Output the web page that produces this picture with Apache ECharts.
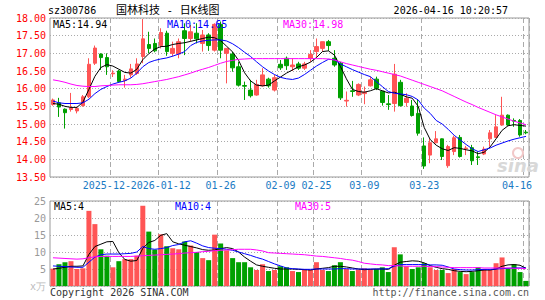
<!DOCTYPE html>
<html><head><meta charset="utf-8">
<script src="https://cdn.jsdelivr.net/npm/echarts@6/dist/echarts.min.js"></script>
<style>html,body{margin:0;padding:0;background:#fff}#c{width:545px;height:300px}</style>
</head><body><div id="c"></div>
<script>
const dates = [
'2025-12-15','2025-12-16','2025-12-17','2025-12-18','2025-12-19',
'2025-12-22','2025-12-23','2025-12-24','2025-12-25','2025-12-26',
'2025-12-29','2025-12-30','2025-12-31',
'2026-01-05','2026-01-06','2026-01-07','2026-01-08','2026-01-09',
'2026-01-12','2026-01-13','2026-01-14','2026-01-15','2026-01-16',
'2026-01-19','2026-01-20','2026-01-21','2026-01-22','2026-01-23',
'2026-01-26','2026-01-27','2026-01-28','2026-01-29','2026-01-30',
'2026-02-02','2026-02-03','2026-02-04','2026-02-05','2026-02-06',
'2026-02-09','2026-02-10','2026-02-11','2026-02-12','2026-02-13',
'2026-02-24','2026-02-25','2026-02-26','2026-02-27',
'2026-03-02','2026-03-03','2026-03-04','2026-03-05','2026-03-06',
'2026-03-09','2026-03-10','2026-03-11','2026-03-12','2026-03-13',
'2026-03-16','2026-03-17','2026-03-18','2026-03-19','2026-03-20',
'2026-03-23','2026-03-24','2026-03-25','2026-03-26','2026-03-27',
'2026-03-30','2026-03-31',
'2026-04-01','2026-04-02','2026-04-03',
'2026-04-07','2026-04-08','2026-04-09','2026-04-10',
'2026-04-13','2026-04-14','2026-04-15','2026-04-16'];

const openP = [15.55,15.60,15.42,15.41,15.37,15.52,15.77,16.72,16.98,16.88,
16.42,16.50,16.23,16.39,16.43,16.91,17.25,17.28,17.22,17.57,
17.00,16.98,17.64,17.42,17.57,17.28,17.52,17.09,17.82,17.00,
16.98,16.62,16.09,15.96,15.82,16.08,16.27,15.96,16.69,16.86,
16.62,16.70,16.58,16.86,17.05,17.14,17.33,16.86,16.72,15.65,
15.94,15.82,15.86,16.08,16.27,15.93,15.57,15.58,16.18,15.61,
15.51,15.30,14.38,14.12,14.47,14.58,13.82,14.22,14.62,14.30,
14.33,14.07,14.15,14.58,14.62,14.97,15.25,15.10,15.10,14.77];

const closeP = [15.68,15.48,15.32,15.46,15.44,15.77,16.69,17.15,16.88,16.62,
16.44,16.20,16.27,16.56,16.70,17.41,17.14,17.07,17.59,17.05,
17.14,17.33,17.42,17.61,17.41,17.52,17.22,17.82,17.09,17.14,
16.59,16.10,16.07,15.80,16.12,16.39,16.08,16.31,16.59,16.65,
16.67,16.58,16.70,16.97,17.19,17.33,17.22,16.67,15.74,15.67,
15.92,16.12,15.90,16.25,16.01,15.61,15.55,16.41,15.52,15.73,
15.24,14.74,13.81,14.47,14.58,14.08,14.36,14.61,14.08,14.32,
13.96,14.05,14.29,14.75,14.92,15.25,14.97,15.08,14.69,14.75];

const lowP = [15.52,15.20,14.87,15.35,15.30,15.49,15.73,16.67,16.53,16.39,
16.33,16.17,16.03,16.31,16.39,16.72,17.00,17.03,17.14,16.93,
16.91,16.86,16.95,17.33,17.28,17.05,17.07,17.05,16.86,16.15,
16.48,16.06,15.68,15.75,15.80,16.06,16.03,15.92,16.53,16.53,
16.50,16.53,16.53,16.76,16.88,17.05,17.07,16.62,15.68,15.49,
15.77,15.79,15.56,16.06,15.96,15.52,15.40,15.35,15.49,15.49,
15.21,14.67,13.73,13.89,14.45,13.98,13.76,14.12,14.05,14.12,
13.84,13.84,14.12,14.36,14.61,14.95,14.95,14.92,14.64,14.71];

const highP = [15.72,15.74,15.44,15.88,15.49,15.82,16.86,17.22,17.00,17.00,
16.52,16.53,16.39,16.70,16.86,17.97,17.61,17.42,17.71,17.64,
17.33,17.42,17.85,17.80,17.85,17.66,17.57,17.85,17.90,17.14,
17.05,16.76,16.20,16.25,16.25,16.58,16.31,16.39,16.81,16.91,
16.86,16.76,16.76,17.09,17.42,17.33,17.38,17.09,16.76,15.92,
16.22,16.15,16.06,16.34,16.34,15.93,15.82,16.70,16.25,15.87,
15.68,15.68,14.62,14.59,14.80,14.59,14.41,14.67,14.69,14.38,
14.41,14.22,14.36,14.83,15.25,15.77,15.27,15.16,15.14,14.83];

const ma5 = [15.58,15.56,15.50,15.47,15.47,15.62,15.98,16.35,16.60,16.68,
16.64,16.55,16.46,16.44,16.55,16.82,16.99,17.12,17.19,17.20,
17.25,17.28,17.30,17.34,17.38,17.42,17.46,17.44,17.36,17.20,
17.04,16.80,16.45,16.22,16.10,16.08,16.10,16.22,16.33,16.44,
16.53,16.62,16.67,16.75,16.88,17.05,17.07,16.95,16.63,16.28,
15.98,15.92,15.90,15.94,16.00,15.94,15.88,15.90,15.84,15.77,
15.73,15.50,14.90,14.56,14.40,14.30,14.25,14.33,14.31,14.27,
14.24,14.16,14.20,14.35,14.58,14.82,14.95,14.98,14.96,14.94];

const ma10 = [15.65,15.60,15.58,15.58,15.58,15.60,15.70,15.86,15.98,16.06,
16.13,16.18,16.22,16.30,16.44,16.62,16.74,16.80,16.84,16.87,
16.92,16.98,17.05,17.22,17.31,17.35,17.37,17.38,17.38,17.35,
17.27,17.16,17.03,16.91,16.76,16.62,16.50,16.40,16.32,16.28,
16.26,16.30,16.40,16.52,16.64,16.74,16.83,16.82,16.70,16.62,
16.54,16.47,16.40,16.34,16.20,16.06,15.92,15.87,15.85,15.83,
15.78,15.68,15.45,15.30,15.10,15.00,14.85,14.68,14.55,14.42,
14.30,14.22,14.27,14.32,14.40,14.46,14.52,14.57,14.61,14.65];

const ma30 = [16.25,16.22,16.18,16.13,16.09,16.07,16.06,16.06,16.08,16.09,
16.10,16.11,16.11,16.11,16.12,16.14,16.17,16.20,16.23,16.26,
16.30,16.34,16.39,16.44,16.50,16.55,16.60,16.66,16.72,16.77,
16.80,16.83,16.84,16.85,16.85,16.85,16.85,16.85,16.85,16.85,
16.85,16.85,16.85,16.85,16.85,16.85,16.84,16.81,16.76,16.71,
16.67,16.63,16.59,16.55,16.52,16.48,16.44,16.40,16.36,16.30,
16.24,16.18,16.12,16.06,16.00,15.94,15.86,15.78,15.70,15.62,
15.55,15.47,15.40,15.33,15.26,15.20,15.14,15.08,15.03,14.98];

const volume = [5.1,6.4,7.0,7.3,5.0,5.2,22.1,18.2,10.8,8.9,
5.5,7.3,7.9,7.9,8.9,23.6,16.0,10.7,15.2,11.7,
11.1,10.8,13.1,11.9,10.0,8.2,7.6,15.1,12.5,10.5,
8.2,7.0,7.0,5.5,4.7,6.4,4.4,4.7,5.8,5.5,
4.4,4.1,5.0,4.7,7.0,4.7,4.4,6.1,7.0,5.0,
4.4,4.8,5.2,5.0,5.0,5.5,4.1,11.4,9.3,5.8,
5.0,5.5,6.7,5.5,4.7,4.7,3.8,5.0,4.1,3.5,
4.1,5.5,5.0,4.7,6.7,8.4,5.2,6.4,4.1,1.5];

const vma5 = [5.0,5.2,5.5,5.8,5.8,5.9,9.3,11.6,12.3,13.0,
13.1,9.8,7.8,7.3,7.5,11.1,12.8,13.4,14.9,15.4,
13.0,12.4,12.0,11.6,11.2,10.7,10.5,10.6,11.0,11.3,
11.0,10.0,8.5,7.3,6.2,5.8,5.5,5.2,5.0,5.0,
5.0,4.9,4.8,4.7,5.0,5.2,5.4,5.8,5.8,5.6,
5.3,5.0,4.8,4.9,5.0,5.0,4.9,6.1,7.0,7.2,
7.4,7.3,6.8,6.0,5.5,5.1,4.9,4.5,4.3,4.2,
4.3,4.5,4.7,4.7,5.0,5.8,6.2,6.3,6.1,5.2];

const vma10 = [5.9,5.8,5.7,5.6,5.5,5.5,7.0,8.5,9.2,9.4,
9.4,9.4,9.5,9.6,10.0,11.6,11.0,10.8,11.0,11.3,
11.9,12.2,13.0,13.3,12.6,11.8,11.3,11.1,11.0,10.8,
10.5,10.0,9.5,9.0,8.4,7.9,7.2,6.5,5.9,5.3,
5.1,5.0,4.9,4.9,5.0,5.0,5.0,5.0,5.1,5.1,
5.0,5.0,5.0,5.0,5.0,5.0,5.1,5.8,6.3,6.3,
6.3,6.3,6.3,6.2,6.2,6.1,5.6,5.0,4.8,4.7,
4.7,4.8,4.9,4.9,5.0,5.1,5.2,5.3,5.3,5.3];

const vma30 = [8.3,8.2,8.1,8.0,7.9,8.0,8.3,8.6,8.7,8.7,
8.7,8.7,8.7,8.7,8.8,8.9,9.0,9.1,9.2,9.3,
9.4,9.5,9.7,9.8,9.9,10.1,10.2,10.4,10.5,10.6,
10.7,10.8,10.8,10.8,10.6,10.3,9.8,9.7,9.6,9.5,
9.4,9.3,9.2,9.0,8.8,8.7,8.5,8.3,8.1,7.8,
7.6,7.2,6.7,6.5,6.3,6.2,6.0,6.0,5.9,5.8,
5.8,5.8,5.8,5.7,5.7,5.6,5.5,5.4,5.4,5.4,
5.4,5.4,5.3,5.3,5.3,5.3,5.3,5.2,5.2,5.1];

const dateTickIndex = [10,18,28,38,44,52,62,79];
// the first label is cut off by the second one in the reference: only "2025-12-" is visible
const dateTickLabels = ['2025-12-','2026-01-12','01-26','02-09','02-25','03-09','03-23','04-16'];
const volUnitLabel = 'x万';
const volLegend = ['MA5:4','MA10:4','MA30:5'];

const UP = '#ff5555', DOWN = '#00a000';
const MONO = '"DejaVu Sans Mono", monospace';
const LABEL_BLUE = '#1a7ac4';
const kData = dates.map((d, i) => [openP[i], closeP[i], lowP[i], highP[i]]);
const volData = volume.map((v, i) => ({value: v, itemStyle: {color: closeP[i] >= openP[i] ? UP : DOWN}}));
const isTick = (i) => dateTickIndex.indexOf(i) >= 0;
const last = (a) => a[a.length - 1];
const firstTick = dateTickIndex[0];

const chart = echarts.init(document.getElementById('c'), null, {renderer: 'svg'});

function txt(text, x, y, color, opts) {
  opts = opts || {};
  return {type: 'text', z: 100, silent: true,
    style: Object.assign({text: text, x: x, y: y, fill: color,
      font: (opts.size || 10) + 'px ' + (opts.family || MONO),
      textAlign: opts.align || 'left', align: opts.align || 'left',
      textVerticalAlign: 'middle', verticalAlign: 'middle'}, opts.extra || {})};
}

const gridSplitX = {show: true, interval: (i) => isTick(i), lineStyle: {color: '#aaa', width: 1, type: [5, 3]}};
const richR = {padding: [0, 18, 0, 0], color: LABEL_BLUE, fontFamily: MONO, fontSize: 10};
const richL = {padding: [0, 12, 0, 0], color: LABEL_BLUE, fontFamily: MONO, fontSize: 10};

chart.setOption({
  animation: false,
  backgroundColor: '#fff',
  grid: [
    {left: 50, top: 18, width: 479, height: 159, show: true, borderColor: '#999', borderWidth: 1, backgroundColor: 'transparent'},
    {left: 50, top: 201, width: 479, height: 85, show: true, borderColor: '#999', borderWidth: 1, backgroundColor: 'transparent'}
  ],
  xAxis: [
    {type: 'category', gridIndex: 0, data: dates, boundaryGap: true, position: 'bottom',
     axisLine: {show: false}, axisTick: {show: false},
     axisLabel: {interval: (i) => isTick(i) && i !== firstTick, hideOverlap: false, margin: 3, color: LABEL_BLUE, fontFamily: MONO, fontSize: 10,
       formatter: (v, i) => {
         const k = dateTickIndex.indexOf(i);
         if (k < 0) return '';
         return i === dates.length - 1 ? '{r|' + dateTickLabels[k] + '}' : dateTickLabels[k];
       },
       rich: {r: richR}},
     splitLine: gridSplitX},
    {type: 'category', gridIndex: 1, data: dates, boundaryGap: true, position: 'bottom',
     axisLine: {show: false}, axisTick: {show: false}, axisLabel: {show: false},
     splitLine: gridSplitX},
    {type: 'category', gridIndex: 0, data: dates, boundaryGap: true, position: 'bottom', offset: 0,
     axisLine: {show: false}, axisTick: {show: false}, splitLine: {show: false},
     axisLabel: {interval: (i) => i === firstTick, margin: 3, color: LABEL_BLUE, fontFamily: MONO, fontSize: 10,
       formatter: (v, i) => i === firstTick ? '{l|' + dateTickLabels[0] + '}' : '',
       rich: {l: richL}}}
  ],
  yAxis: [
    {type: 'value', gridIndex: 0, min: 13.5, max: 18, interval: 0.5,
     axisLine: {show: false}, axisTick: {show: false},
     axisLabel: {color: '#ff0000', fontFamily: MONO, fontSize: 10, margin: 4, formatter: (v) => v.toFixed(2)},
     splitLine: {show: true, lineStyle: {color: '#aaa', width: 1, type: [1, 2]}}},
    {type: 'value', gridIndex: 1, min: 0, max: 25, interval: 5,
     axisLine: {show: false}, axisTick: {show: false},
     axisLabel: {color: '#999', fontFamily: MONO, fontSize: 10, margin: 4,
       formatter: (v) => v === 0 ? '{u|' + volUnitLabel + '}' : String(v),
       rich: {u: {color: '#bbb', fontSize: 10, fontFamily: MONO}}},
     splitLine: {show: true, lineStyle: {color: '#aaa', width: 1, type: [1, 2]}}}
  ],
  series: [
    {type: 'candlestick', xAxisIndex: 0, yAxisIndex: 0, data: kData, barWidth: 4,
     itemStyle: {color: UP, color0: DOWN, borderColor: UP, borderColor0: DOWN, borderColorDoji: UP, borderWidth: 1}},
    {type: 'line', xAxisIndex: 0, yAxisIndex: 0, data: ma5, symbol: 'none', lineStyle: {color: '#000', width: 1}},
    {type: 'line', xAxisIndex: 0, yAxisIndex: 0, data: ma10, symbol: 'none', lineStyle: {color: '#0000ff', width: 1}},
    {type: 'line', xAxisIndex: 0, yAxisIndex: 0, data: ma30, symbol: 'none', lineStyle: {color: '#ff00ff', width: 1}},
    {type: 'bar', xAxisIndex: 1, yAxisIndex: 1, data: volData, barWidth: 5},
    {type: 'line', xAxisIndex: 1, yAxisIndex: 1, data: vma5, symbol: 'none', lineStyle: {color: '#000', width: 1}},
    {type: 'line', xAxisIndex: 1, yAxisIndex: 1, data: vma10, symbol: 'none', lineStyle: {color: '#0000ff', width: 1}},
    {type: 'line', xAxisIndex: 1, yAxisIndex: 1, data: vma30, symbol: 'none', lineStyle: {color: '#ff00ff', width: 1}}
  ],
  graphic: [
    txt('sz300786', 48, 10, '#000'),
    txt('国林科技 - 日K线图', 116, 10, '#000', {size: 11, family: '"DejaVu Sans Mono", "Noto Sans CJK SC", sans-serif'}),
    txt('2026-04-16 10:20:57', 508, 10, '#000', {align: 'right'}),
    txt('MA5:' + last(ma5).toFixed(2), 53, 24, '#000'),
    txt('MA10:' + last(ma10).toFixed(2), 167, 24, '#0000ff'),
    txt('MA30:' + last(ma30).toFixed(2), 283, 24, '#ff00ff'),
    txt(volLegend[0], 54, 206, '#000'),
    txt(volLegend[1], 175, 206, '#0000ff'),
    txt(volLegend[2], 295, 206, '#ff00ff'),
    txt('Copyright 2026 SINA.COM', 50, 292, '#333'),
    txt('http://finance.sina.com.cn', 529, 292, '#555', {align: 'right'}),
    {type: 'circle', z: 1, silent: true, shape: {cx: 518, cy: 153, r: 5}, style: {fill: 'none', stroke: '#f2c8c8', lineWidth: 2}},
    {type: 'text', z: 1, silent: true, style: {text: 'sina', x: 497, y: 165, fill: '#d8d8d8',
      font: 'italic bold 18px "DejaVu Sans", sans-serif', textVerticalAlign: 'middle', verticalAlign: 'middle'}}
  ]
});
</script></body></html>
